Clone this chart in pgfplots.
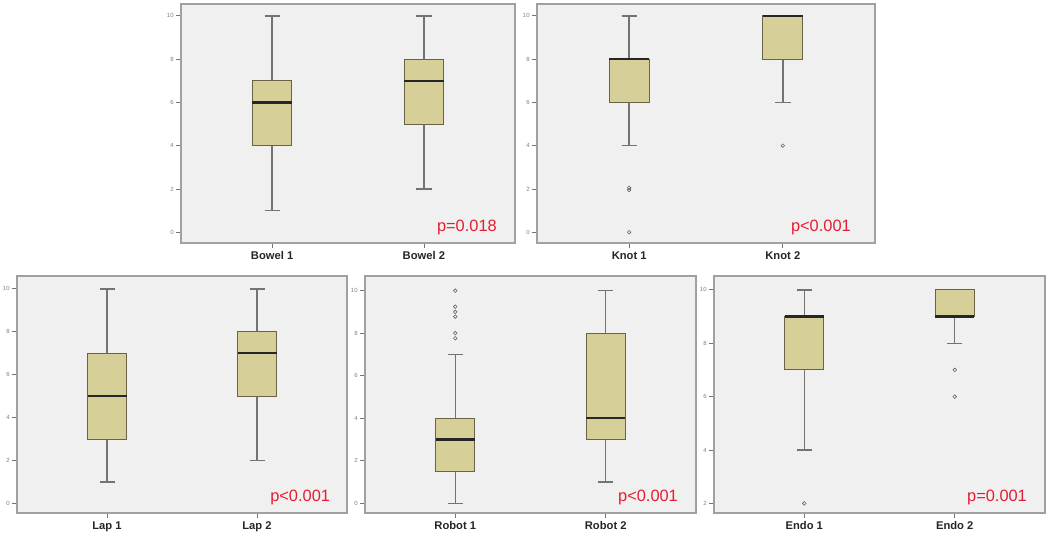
\documentclass[border=0pt]{standalone}
\usepackage{fontspec}
\setmainfont{Liberation Sans}
\usepackage{pgfplots}
\pgfplotsset{compat=1.18}
\usepgfplotslibrary{statistics}

\definecolor{boxfill}{RGB}{214,208,152}
\definecolor{boxedge}{RGB}{105,100,70}
\definecolor{panelbg}{RGB}{240,240,240}
\definecolor{framecol}{RGB}{160,160,160}
\definecolor{whiskcol}{RGB}{115,115,115}
\definecolor{pred}{RGB}{228,30,50}

\pgfplotsset{
  panel/.style={
    scale only axis,
    anchor=north west,
    xmin=0.4, xmax=2.6,
    xtick={1,2},
    ytick distance=2,
    xtick pos=lower, ytick pos=left,
    tick align=outside,
    major tick length=2.5pt,
    tick style={draw=whiskcol, line width=0.4pt},
    axis line style={draw=framecol, line width=0.6pt},
    axis background/.style={fill=panelbg},
    yticklabel style={font=\fontsize{3}{3}\selectfont, text=gray, inner sep=1pt},
    xticklabel style={font=\fontsize{5.6}{6}\selectfont\bfseries, text=black!85, inner sep=1.5pt},
    /pgf/number format/assume math mode=true,
    boxplot/draw direction=y,
    boxplot/box extend=0.26,
    boxplot/whisker extend=0.1,
    boxplot/every box/.style={fill=boxfill, draw=boxedge, line width=0.5pt},
    boxplot/every whisker/.style={draw=whiskcol, line width=0.7pt},
    boxplot/every median/.style={draw=black!85, line width=1.2pt},
    clip=false,
  },
  bx/.style={mark=o, mark size=0.9pt, mark options={draw=gray!80!black, fill=white, line width=0.3pt}, draw=whiskcol, line width=0.7pt},
}
\newcommand{\pval}[2]{\node[text=pred, font=\fontsize{8.2}{9}\selectfont] at (rel axis cs:#1,0.066) {#2};}

\begin{document}
\begin{tikzpicture}
\useasboundingbox[fill=white] (0,0) rectangle (525pt,271pt);

% Bowel
\begin{axis}[panel, at={(90.5pt,269pt)}, width=167pt, height=119.5pt,
  ymin=-0.5, ymax=10.55, xticklabels={Bowel 1, Bowel 2}]
  \addplot[bx, boxplot prepared={draw position=1, lower whisker=1, lower quartile=4, median=6, upper quartile=7, upper whisker=10}] coordinates {};
  \addplot[bx, boxplot prepared={draw position=2, lower whisker=2, lower quartile=5, median=7, upper quartile=8, upper whisker=10}] coordinates {};
  \pval{0.856}{p=0.018}
\end{axis}

% Knot
\begin{axis}[panel, at={(268.5pt,269pt)}, width=169pt, height=119.5pt,
  ymin=-0.5, ymax=10.55, xticklabels={Knot 1, Knot 2}]
  \addplot[bx, boxplot prepared={draw position=1, lower whisker=4, lower quartile=6, median=8, upper quartile=8, upper whisker=10}] coordinates {(0,2.05) (0,1.95) (0,0)};
  \addplot[bx, boxplot prepared={draw position=2, lower whisker=6, lower quartile=8, median=10, upper quartile=10, upper whisker=10}] coordinates {(0,4)};
  \pval{0.84}{p<0.001}
\end{axis}

% Lap
\begin{axis}[panel, at={(8.5pt,133pt)}, width=165pt, height=118.5pt,
  ymin=-0.45, ymax=10.6, xticklabels={Lap 1, Lap 2}]
  \addplot[bx, boxplot prepared={draw position=1, lower whisker=1, lower quartile=3, median=5, upper quartile=7, upper whisker=10}] coordinates {};
  \addplot[bx, boxplot prepared={draw position=2, lower whisker=2, lower quartile=5, median=7, upper quartile=8, upper whisker=10}] coordinates {};
  \pval{0.858}{p<0.001}
\end{axis}

% Robot
\begin{axis}[panel, at={(182.5pt,133pt)}, width=165.5pt, height=118.5pt,
  ymin=-0.46, ymax=10.69, xticklabels={Robot 1, Robot 2}]
  \addplot[bx, boxplot prepared={draw position=1, lower whisker=0, lower quartile=1.5, median=3, upper quartile=4, upper whisker=7}] coordinates {(0,10) (0,9.25) (0,9.0) (0,8.78) (0,8.0) (0,7.76)};
  \addplot[bx, boxplot prepared={draw position=2, lower whisker=1, lower quartile=3, median=4, upper quartile=8, upper whisker=10}] coordinates {};
  \pval{0.855}{p<0.001}
\end{axis}

% Endo
\begin{axis}[panel, at={(357pt,133pt)}, width=165.5pt, height=118.5pt,
  ymin=1.64, ymax=10.52, ytick={2,4,6,8,10}, xticklabels={Endo 1, Endo 2}]
  \addplot[bx, boxplot prepared={draw position=1, lower whisker=4, lower quartile=7, median=9, upper quartile=9, upper whisker=10}] coordinates {(0,2)};
  \addplot[bx, boxplot prepared={draw position=2, lower whisker=8, lower quartile=9, median=9, upper quartile=10, upper whisker=10}] coordinates {(0,7) (0,6)};
  \pval{0.855}{p=0.001}
\end{axis}
\end{tikzpicture}
\end{document}
